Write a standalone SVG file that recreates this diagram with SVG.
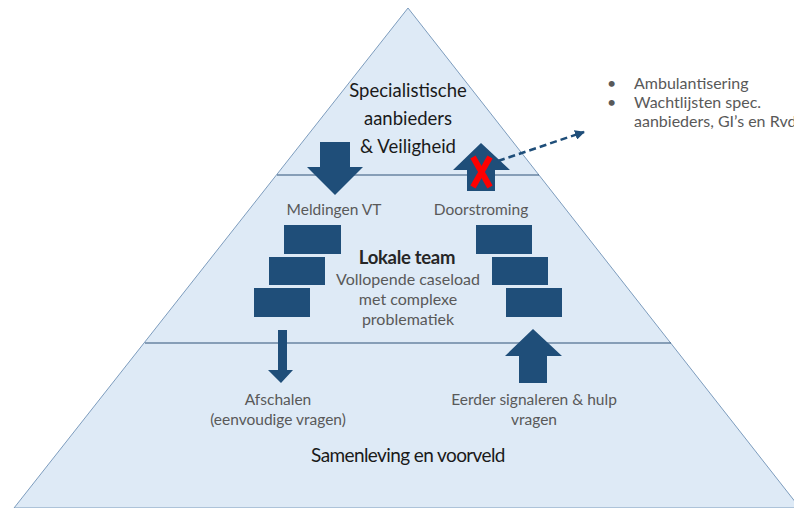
<svg xmlns="http://www.w3.org/2000/svg" width="794" height="508" viewBox="0 0 794 508">
<defs>
<style>
.t{font-family:Lato,"Liberation Sans",sans-serif;text-anchor:middle}
.title{font-size:18.5px;fill:#1a1a1a}
.lbl{font-size:15.5px;fill:#595959}
.blk{fill:#1f4e79}
.div{stroke:#2f5378;stroke-width:1.2;fill:none}
</style>
<marker id="ah" viewBox="0 0 10 10" refX="9" refY="5" markerWidth="4" markerHeight="4" orient="auto"><path d="M0,0 L10,5 L0,10 z" fill="#1f4e79"/></marker>
</defs>
<rect width="794" height="508" fill="#ffffff"/>
<g id="pyramid">
<polygon points="408,8 800,508 14,508" fill="#deeaf6" stroke="#7d9cbd" stroke-width="1"/>
<line class="div" x1="277" y1="175" x2="539" y2="175"/>
<line class="div" x1="145" y1="343" x2="671" y2="343"/>
</g>
<g id="top-level">
<text class="t title" x="408" y="97">Specialistische</text>
<text class="t title" x="408" y="125">aanbieders</text>
<text class="t title" x="408" y="153">&amp; Veiligheid</text>
</g>
<g id="bullets" font-family="Lato,'Liberation Sans',sans-serif" font-size="16" fill="#595959">
<text x="607" y="89">•</text><text x="634" y="89">Ambulantisering</text>
<text x="607" y="108">•</text><text x="634" y="108">Wachtlijsten spec.</text>
<text x="634" y="127">aanbieders, GI’s en Rvd</text>
</g>
<g id="middle-level">
<text class="t lbl" x="334" y="215">Meldingen VT</text>
<text class="t lbl" x="481" y="215">Doorstroming</text>
<text class="t" x="407" y="264" font-size="18.5" font-weight="bold" fill="#262626" letter-spacing="-0.3">Lokale team</text>
<text class="t" x="408" y="285" font-size="16" fill="#595959">Vollopende caseload</text>
<text class="t" x="408" y="305" font-size="16" fill="#595959">met complexe</text>
<text class="t" x="408" y="325" font-size="16" fill="#595959">problematiek</text>
</g>
<g id="blocks-left">
<rect class="blk" x="284" y="225" width="57" height="29"/>
<rect class="blk" x="269" y="257" width="56" height="28"/>
<rect class="blk" x="254" y="288" width="56" height="29"/>
</g>
<g id="blocks-right">
<rect class="blk" x="476" y="225" width="56" height="29"/>
<rect class="blk" x="492" y="257" width="56" height="28"/>
<rect class="blk" x="506" y="288" width="56" height="29"/>
</g>
<g id="bottom-level">
<text class="t lbl" x="278" y="405">Afschalen</text>
<text class="t lbl" x="278" y="425">(eenvoudige vragen)</text>
<text class="t lbl" x="534" y="405">Eerder signaleren &amp; hulp</text>
<text class="t lbl" x="534" y="425">vragen</text>
<text class="t" x="408" y="462" font-size="19" fill="#1a1a1a" letter-spacing="-0.6">Samenleving en voorveld</text>
</g>
<g id="connectors">
<polygon class="blk" points="320,142 350,142 350,167 363,167 335,195 307,167 320,167"/>
<polygon class="blk" points="481,143 510,170 495,170 495,191 467,191 467,170 453,170"/>
<g stroke="#ff0000" stroke-width="6" stroke-linecap="butt">
<line x1="473" y1="157" x2="490" y2="187"/>
<line x1="490" y1="157" x2="473" y2="187"/>
</g>
<line x1="498" y1="161" x2="584" y2="132" stroke="#1f4e79" stroke-width="2.5" stroke-dasharray="7,4" marker-end="url(#ah)"/>
<polygon class="blk" points="278,330 287,330 287,370 293,370 281,383 268,370 278,370"/>
<polygon class="blk" points="533,329 562,356 547,356 547,383 519,383 519,356 505,356"/>
</g>
</svg>
